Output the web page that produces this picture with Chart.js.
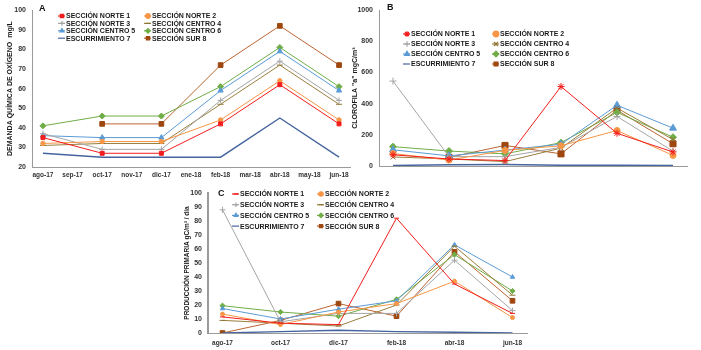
<!DOCTYPE html>
<html>
<head>
<meta charset="utf-8">
<script src="https://cdn.jsdelivr.net/npm/chart.js@4/dist/chart.umd.min.js"></script>
<style>
  body { margin: 0; width: 701px; height: 350px; background: #fff; position: relative; overflow: hidden; }
  canvas { position: absolute; }
</style>
</head>
<body>
<canvas id="chartA" width="355" height="180" style="left:0;top:0"></canvas>
<canvas id="chartB" width="361" height="180" style="left:340px;top:0"></canvas>
<canvas id="chartC" width="400" height="170" style="left:150px;top:180px"></canvas>
<script>
// month labels for panels A and B, sampled months are every second one
const months = ['ago-17', 'sep-17', 'oct-17', 'nov-17', 'dic-17', 'ene-18', 'feb-18', 'mar-18', 'abr-18', 'may-18', 'jun-18'];
const sampleIdx = [0, 2, 4, 6, 8, 10];
const monthsC = ['ago-17', 'oct-17', 'dic-17', 'feb-18', 'abr-18', 'jun-18'];

const seriesNames = ['SECCIÓN NORTE 1', 'SECCIÓN NORTE 2', 'SECCIÓN NORTE 3', 'SECCIÓN CENTRO 4',
                     'SECCIÓN CENTRO 5', 'SECCIÓN CENTRO 6', 'ESCURRIMIENTO 7', 'SECCIÓN SUR 8'];

// A: demanda química de oxígeno (mg/L)
const dqoNorte1 = [35, 27, 27, 42, 62, 42];
const dqoNorte2 = [32, 33, 33, 44, 64, 44];
const dqoNorte3 = [37, 29, 29, 54, 74, 54];
const dqoCentro4 = [31, 32, 32, 52, 72, 52];
const dqoCentro5 = [36, 35, 35, 59, 79, 59];
const dqoCentro6 = [41, 46, 46, 61, 81, 61];
const dqoEscurr7 = [27, 25, 25, 25, 45, 25];
const dqoSur8 = [null, 42, 42, 72, 92, 72];

// B: clorofila "a" (mgC/m3)
const claNorte1 = [72, 45, 35, 510, 210, 90];
const claNorte2 = [80, 38, 100, 130, 228, 68];
const claNorte3 = [545, 60, 60, 120, 318, 95];
const claCentro4 = [58, 45, 28, 115, 372, 170];
const claCentro5 = [104, 65, 102, 140, 390, 243];
const claCentro6 = [124, 96, 78, 150, 344, 185];
const claEscurr7 = [3, 8, 10, 5, 5, 4];
const claSur8 = [null, 55, 132, 78, 358, 143];

// C: producción primaria (gC/m3 / día)
const ppNorte1 = [11.5, 7, 6, 82, 35, 14];
const ppNorte2 = [13.5, 6, 15, 21, 37, 11];
const ppNorte3 = [88, 8, 14, 14, 52, 16];
const ppCentro4 = [9, 7, 5, 20, 62, 27];
const ppCentro5 = [17.5, 10, 17, 23, 63, 40];
const ppCentro6 = [19.5, 15, 12, 24, 56, 30];
const ppEscurr7 = [0, 1, 2, 1, 0.5, 0];
const ppSur8 = [0, 9, 21, 12, 58, 23];

const colors = ['#F21D1D', '#F79646', '#A5A5A5', '#9A7F3C', '#5B9BD5', '#70AD47', '#46649E', '#BC6432'];
const pointFill = ['#F21D1D', '#F79646', '#A5A5A5', '#8C7434', '#5B9BD5', '#70AD47', '#46649E', '#9E470F'];

const boxLegend = {
    id: 'boxLegend',
    afterDraw(chart, args, opts) {
        const ctx = chart.ctx;
        ctx.save();
        ctx.textBaseline = 'middle';
        ctx.textAlign = 'left';
        chart.data.datasets.forEach((ds, i) => {
            const x = opts.x[i % 2];
            const y = opts.y + Math.floor(i / 2) * opts.dy;
            ctx.strokeStyle = ds.borderColor;
            ctx.lineWidth = 1.2;
            ctx.beginPath();
            ctx.moveTo(x - 4, y);
            ctx.lineTo(x + 3, y);
            ctx.stroke();
            if (ds.pointRadius > 0) {
                ctx.fillStyle = ds.pointBackgroundColor;
                ctx.strokeStyle = ds.pointBorderColor;
                Chart.helpers.drawPoint(ctx, { pointStyle: ds.pointStyle, radius: opts.r, borderWidth: 1, rotation: 0 }, x, y);
            }
            ctx.font = opts.font;
            ctx.fillStyle = '#1a1a1a';
            ctx.fillText(ds.label, x + 4, y + 0.5);
        });
        ctx.font = 'bold 9px "Liberation Sans", Arial, sans-serif';
        ctx.fillStyle = '#111';
        ctx.textBaseline = 'middle';
        ctx.fillText(opts.letter, opts.lx, opts.ly);
        ctx.restore();
    }
};

function makeDatasets(rows, xs, styles, radii) {
    return rows.map((vals, i) => ({
        label: seriesNames[i],
        data: vals.map((v, j) => ({ x: xs[j], y: v })),
        borderColor: colors[i],
        backgroundColor: pointFill[i],
        pointBackgroundColor: pointFill[i],
        pointBorderColor: pointFill[i],
        borderWidth: i === 6 ? 1.4 : 1,
        pointStyle: styles[i],
        pointRadius: radii[i],
        pointBorderWidth: 1,
        spanGaps: true,
        tension: 0
    }));
}

const tickFont = { family: '"Liberation Sans", Arial, sans-serif', size: 6.5, weight: 'bold' };

function makeChart(id, rows, xs, labels, xmin, xmax, ymin, ymax, ystep, title, titleFont, titlePad, styles, radii, area, legend) {
    return new Chart(document.getElementById(id), {
        type: 'line',
        data: { datasets: makeDatasets(rows, xs, styles, radii) },
        plugins: [boxLegend],
        options: {
            responsive: false,
            animation: false,
            layout: { padding: { top: area.top, right: area.right, left: 0, bottom: 0 } },
            plugins: { legend: { display: false }, tooltip: { enabled: false }, boxLegend: legend },
            scales: {
                x: {
                    type: 'linear',
                    min: xmin,
                    max: xmax,
                    afterFit: s => { s.height = area.xh; },
                    grid: { display: false, drawTicks: false },
                    border: { color: '#9a9a9a', width: 1 },
                    ticks: {
                        stepSize: 1,
                        includeBounds: false,
                        autoSkip: false,
                        maxRotation: 0,
                        padding: area.xpad,
                        color: '#333',
                        font: tickFont,
                        callback: v => labels[v] || ''
                    }
                },
                y: {
                    min: ymin,
                    max: ymax,
                    afterFit: s => { s.width = area.yw; },
                    grid: { display: false, drawTicks: false },
                    border: { color: '#9a9a9a', width: area.yb },
                    ticks: { stepSize: ystep, padding: 6, color: '#333',
                             font: { family: tickFont.family, size: 7, weight: 'bold' },
                             callback: v => String(v) },
                    title: { display: true, text: title, color: '#1a1a1a', padding: titlePad,
                             font: { family: tickFont.family, size: titleFont, weight: 'bold' } }
                }
            }
        }
    });
}

const idxC = [0, 1, 2, 3, 4, 5];

makeChart('chartA',
    [dqoNorte1, dqoNorte2, dqoNorte3, dqoCentro4, dqoCentro5, dqoCentro6, dqoEscurr7, dqoSur8],
    sampleIdx, months, -0.37, 10.37, 20, 100, 10,
    'DEMANDA QUÍMICA DE OXÍGENO  mg/L', 7, { top: 6, bottom: 0 },
    ['rect', 'circle', 'cross', 'line', 'triangle', 'rectRot', false, 'rect'],
    [2.8, 2.2, 3, 3, 3, 3, 0, 3.3],
    { top: 7, right: 5, xh: 13, yw: 32, xpad: 4, yb: 1 },
    { x: [62, 148], y: 16, dy: 7.4, r: 2.3, font: 'bold 7px "Liberation Sans", Arial, sans-serif', letter: 'A', lx: 39, ly: 9 });

makeChart('chartB',
    [claNorte1, claNorte2, claNorte3, claCentro4, claCentro5, claCentro6, claEscurr7, claSur8],
    sampleIdx, months, -0.5, 10.5, 0, 1000, 200,
    'CLOROFILA "a" mgC/m³', 7, { top: 11, bottom: 0 },
    ['star', 'circle', 'cross', 'crossRot', 'triangle', 'rectRot', false, 'rect'],
    [3.5, 3, 3.5, 3.5, 4, 3.5, 0, 4.3],
    { top: 10, right: 14, xh: 14, yw: 39, xpad: 5, yb: 1 },
    { x: [67, 156], y: 34, dy: 10, r: 2.8, font: 'bold 7px "Liberation Sans", Arial, sans-serif', letter: 'B', lx: 47, ly: 8 });

makeChart('chartC',
    [ppNorte1, ppNorte2, ppNorte3, ppCentro4, ppCentro5, ppCentro6, ppEscurr7, ppSur8],
    idxC, monthsC, -0.25, 5.25, 0, 100, 10,
    'PRODUCCIÓN PRIMARIA gC/m³ / día', 6.5, { top: 33, bottom: 0 },
    ['line', 'circle', 'cross', 'line', 'triangle', 'rectRot', false, 'rect'],
    [2.5, 2, 3, 3, 2.5, 2.6, 0, 3.3],
    { top: 13, right: 23, xh: 17, yw: 58, xpad: 6, yb: 2 },
    { x: [86, 171], y: 14, dy: 10.7, r: 2.2, font: 'bold 7px "Liberation Sans", Arial, sans-serif', letter: 'C', lx: 68, ly: 14 });
</script>
</body>
</html>
